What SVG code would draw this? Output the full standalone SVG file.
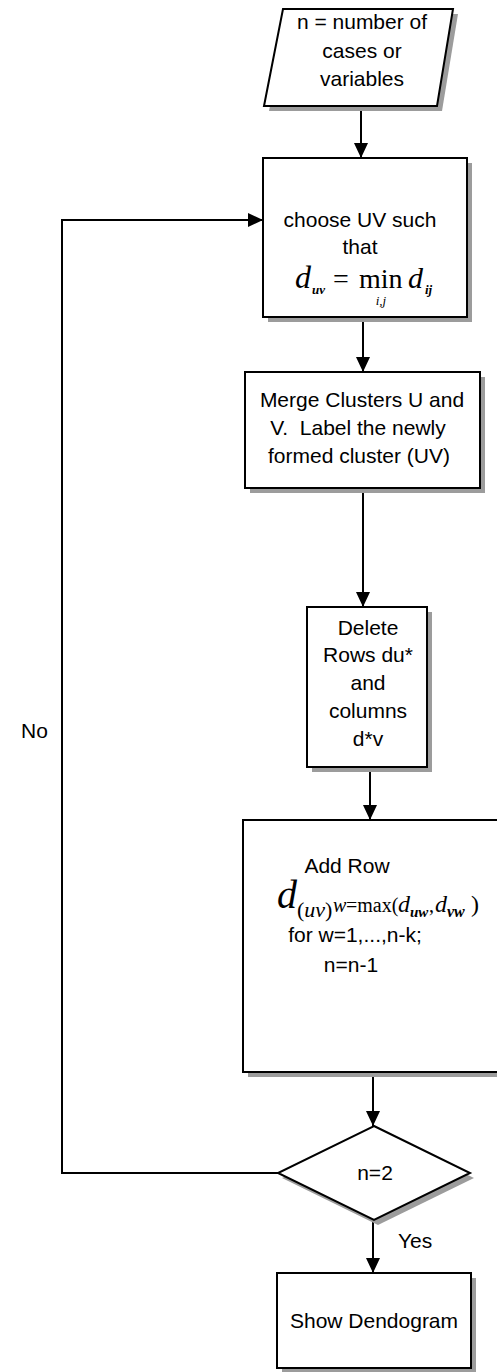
<svg xmlns="http://www.w3.org/2000/svg" width="497" height="1372" viewBox="0 0 497 1372">
<style>
.box{fill:#fff;stroke:#000;stroke-width:2}
.sh{fill:#9c9c9c}
.t{font-family:"Liberation Sans",Arial,sans-serif;font-size:21px;fill:#000;text-anchor:middle}
.tl{font-family:"Liberation Sans",Arial,sans-serif;font-size:21px;fill:#000}
.m{font-family:"Liberation Serif","Times New Roman",serif;fill:#000}
.it{font-style:italic}
.bi{font-style:italic;font-weight:bold}
.c{fill:none;stroke:#000;stroke-width:2}
</style>
<defs>
<marker id="ah" markerUnits="userSpaceOnUse" markerWidth="16" markerHeight="14" refX="15" refY="7" orient="auto">
<path d="M0,0 L15,7 L0,14 Z" fill="#000"/>
</marker>
</defs>
<rect width="497" height="1372" fill="#fff"/>

<g id="connectors">
<line class="c" x1="361" y1="107" x2="361" y2="158" marker-end="url(#ah)"/>
<line class="c" x1="363" y1="318" x2="363" y2="372" marker-end="url(#ah)"/>
<line class="c" x1="363" y1="489" x2="363" y2="607" marker-end="url(#ah)"/>
<line class="c" x1="370" y1="768" x2="370" y2="820" marker-end="url(#ah)"/>
<line class="c" x1="373" y1="1073" x2="373" y2="1126" marker-end="url(#ah)"/>
<line class="c" x1="373" y1="1220" x2="373" y2="1273" marker-end="url(#ah)"/>
<polyline class="c" points="278,1173 62,1173 62,220 263,220" marker-end="url(#ah)"/>
<text class="tl" x="21" y="738">No</text>
<text class="tl" x="398" y="1248">Yes</text>
</g>

<g id="input">
<polygon class="sh" points="288,14 458,14 442,111 269,111"/>
<polygon class="box" points="283,9 453,9 437,106 264,106"/>
<text class="t" x="362" y="29">n = number of</text>
<text class="t" x="362" y="58">cases or</text>
<text class="t" x="362" y="86">variables</text>
</g>

<g id="choose">
<rect class="sh" x="268" y="163" width="204" height="159"/>
<rect class="box" x="263" y="158" width="204" height="159"/>
<text class="t" x="360" y="227">choose UV such</text>
<text class="t" x="360" y="254">that</text>
<text class="m it" x="295" y="288" font-size="32">d</text>
<text class="m bi" x="312" y="294" font-size="13">uv</text>
<text class="m" x="333" y="288" font-size="28">=</text>
<text class="m" x="359" y="288" font-size="28">min</text>
<text class="m it" x="381" y="305" font-size="13" text-anchor="middle">i,j</text>
<text class="m it" x="408" y="288" font-size="30">d</text>
<text class="m bi" x="425" y="294" font-size="13">ij</text>
</g>

<g id="merge">
<rect class="sh" x="250" y="377" width="235" height="116"/>
<rect class="box" x="245" y="372" width="235" height="116"/>
<text class="t" x="362" y="407">Merge Clusters U and</text>
<text class="t" x="358" y="435" xml:space="preserve">V.  Label the newly</text>
<text class="t" x="359" y="463">formed cluster (UV)</text>
</g>

<g id="delete">
<rect class="sh" x="312" y="612" width="120" height="160"/>
<rect class="box" x="307" y="607" width="120" height="160"/>
<text class="t" x="368" y="635">Delete</text>
<text class="t" x="368" y="662">Rows du*</text>
<text class="t" x="368" y="690">and</text>
<text class="t" x="368" y="718">columns</text>
<text class="t" x="368" y="746">d*v</text>
</g>

<g id="addrow">
<rect class="sh" x="248" y="825" width="260" height="252"/>
<rect class="box" x="243" y="820" width="260" height="252"/>
<text class="t" x="347" y="873">Add Row</text>
<text class="m it" x="277" y="908" font-size="40">d</text>
<text class="m" x="297" y="917" font-size="22">(<tspan class="it">uv</tspan>)</text>
<text class="m it" x="333" y="912" font-size="20">w</text>
<text class="m" x="346" y="912" font-size="20">=max(</text>
<text class="m it" x="398" y="912" font-size="24">d</text>
<text class="m bi" x="410" y="917" font-size="15">uw</text>
<text class="m" x="429" y="912" font-size="20">,</text>
<text class="m it" x="435" y="912" font-size="24">d</text>
<text class="m bi" x="447" y="917" font-size="16">vw</text>
<text class="m" x="471" y="912" font-size="24">)</text>
<text class="t" x="355" y="942">for w=1,...,n-k;</text>
<text class="t" x="351" y="972">n=n-1</text>
</g>

<g id="decision">
<polygon class="sh" points="378,1131 474,1178 378,1225 282,1178"/>
<polygon class="box" points="374,1126 470,1173 374,1220 278,1173"/>
<text class="t" x="375" y="1180">n=2</text>
</g>

<g id="show">
<rect class="sh" x="282" y="1278" width="194" height="94"/>
<rect class="box" x="277" y="1273" width="194" height="95"/>
<text class="t" x="374" y="1328">Show Dendogram</text>
</g>
</svg>
